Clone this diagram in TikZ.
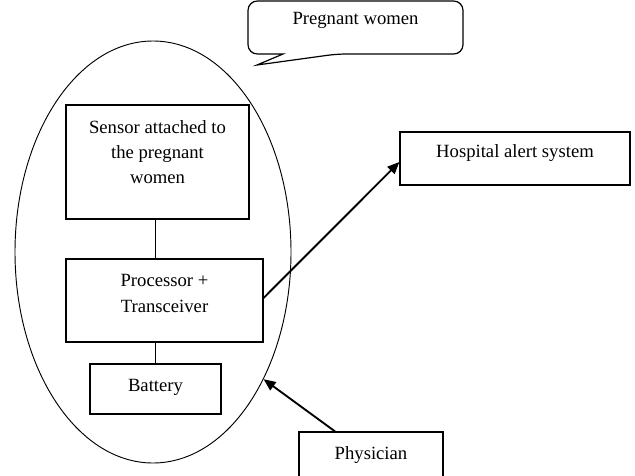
\documentclass[tikz,border=0pt]{standalone}
\usepackage{fontspec}
\setmainfont{Liberation Serif}
\usetikzlibrary{arrows.meta,fit,shapes.geometric}

\begin{document}
\begin{tikzpicture}[
  x=0.75pt, y=-0.75pt,
  font=\fontsize{14}{19}\selectfont,
  box/.style={draw, line width=0.9pt, inner sep=0pt},
  txt/.style={align=center, inner sep=0pt},
  body/.style={draw, ellipse, line width=0.7pt, inner sep=0pt, minimum width=207pt, minimum height=316.5pt},
  bubble/.style={draw, line width=0.9pt, rounded corners=7pt},
  link/.style={line width=0.9pt},
  arrow/.style={-{Triangle[length=9pt,width=7.5pt]}, line width=1.4pt}
]
\useasboundingbox (0,0) rectangle (635,475);

% the pregnant woman with her device
\node[body] (body) at (153,252) {};

\node[box, fit={(66,105)(249,219)}] (sensor) {};
\node[txt] (sensortext) at (157.5,152) {Sensor attached to\\the pregnant\\women};

\node[box, fit={(66,259)(263,342)}] (proc) {};
\node[txt] (proctext) at (164.5,293.5) {Processor +\\Transceiver};

\node[box, fit={(90,364)(221,414)}] (battery) {};
\node[txt] (batterytext) at (155.5,387) {Battery};

% speech bubble
\draw[bubble] (283,54) -- (248,54) -- (248,1) -- (463,1) -- (463,54) -- (337,54) [sharp corners] -- (257,65) -- cycle;
\node[txt] (preg) at (355.5,20) {Pregnant women};

% outside parties
\node[box, fit={(400,132)(630,185)}] (hosp) {};
\node[txt] (hosptext) at (515,153) {Hospital alert system};

\node[box, fit={(299,432)(443,485)}] (phys) {};
\node[txt] (phystext) at (371,455) {Physician};

\draw[link] (sensor.south -| battery.north) -- (proc.north -| battery.north);
\draw[link] (proc.south -| battery.north) -- (battery.north);

\draw[arrow] ([yshift=1.9pt]proc.east) -- ([yshift=-2.6pt]hosp.west);
\draw[arrow] ([xshift=-27pt]phys.north) -- (body.-49);

\end{tikzpicture}
\end{document}
